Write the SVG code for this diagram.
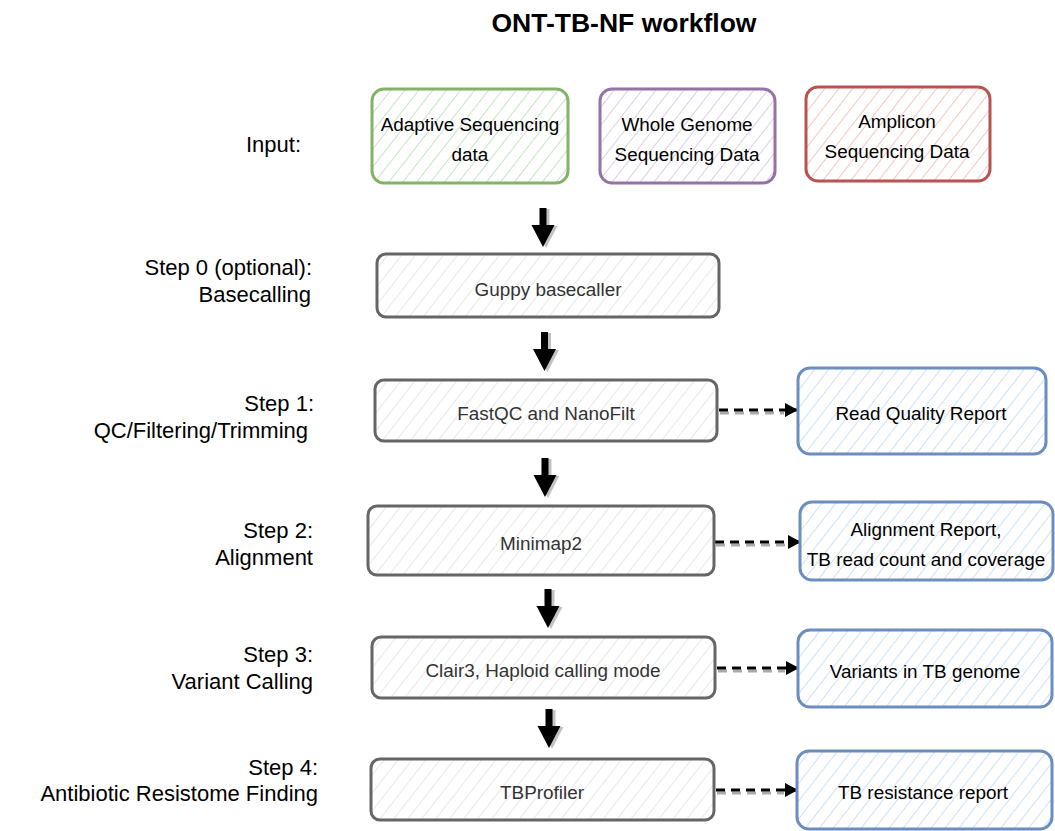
<svg xmlns="http://www.w3.org/2000/svg" width="1055" height="831" viewBox="0 0 1055 831">
<style>
text{font-family:"Liberation Sans",Arial,sans-serif;}
.lbl{font-size:22px;fill:#000;text-anchor:end;}
.bt{font-size:18.9px;fill:#000;text-anchor:middle;}
.gt{font-size:18.9px;fill:#333;text-anchor:middle;}
.box{stroke-width:3;}
.g{fill:url(#hg);stroke:#82b366;}
.p{fill:url(#hp);stroke:#9673a6;}
.r{fill:url(#hr);stroke:#b85450;}
.k{fill:url(#hk);stroke:#666;}
.b{fill:url(#hb);stroke:#6c8ebf;}
.thick{fill:#000;}
.thsh{fill:#999;opacity:0.6;}
.dash{stroke:#000;stroke-width:3;stroke-dasharray:9 6;fill:none;}
.dsh{stroke:#aaa;stroke-width:3;stroke-dasharray:9 6;fill:none;}
</style>
<defs>
<pattern id="hg" patternUnits="userSpaceOnUse" width="11" height="11" patternTransform="rotate(38)"><rect width="11" height="11" fill="#fff"/><line x1="0" y1="0" x2="0" y2="11" stroke="#c9e2c7" stroke-width="2"/></pattern>
<pattern id="hp" patternUnits="userSpaceOnUse" width="11" height="11" patternTransform="rotate(38)"><rect width="11" height="11" fill="#fff"/><line x1="0" y1="0" x2="0" y2="11" stroke="#dccfe4" stroke-width="2"/></pattern>
<pattern id="hr" patternUnits="userSpaceOnUse" width="11" height="11" patternTransform="rotate(38)"><rect width="11" height="11" fill="#fff"/><line x1="0" y1="0" x2="0" y2="11" stroke="#f5c6c4" stroke-width="2"/></pattern>
<pattern id="hk" patternUnits="userSpaceOnUse" width="11" height="11" patternTransform="rotate(38)"><rect width="11" height="11" fill="#fff"/><line x1="0" y1="0" x2="0" y2="11" stroke="#e6e6e6" stroke-width="1.8"/></pattern>
<pattern id="hb" patternUnits="userSpaceOnUse" width="11" height="11" patternTransform="rotate(38)"><rect width="11" height="11" fill="#fff"/><line x1="0" y1="0" x2="0" y2="11" stroke="#cfe0f7" stroke-width="2"/></pattern>
<marker id="tri" markerWidth="14" markerHeight="14" refX="12" refY="7" orient="auto" markerUnits="userSpaceOnUse"><path d="M0,0 L13,7 L0,14 Z" fill="#000"/></marker>
<path id="thickArrow" d="M-3.5,0 H3.5 V17 H11.5 L0,39 L-11.5,17 H-3.5 Z"/>
</defs>
<rect width="1055" height="831" fill="#fff"/>

<text x="624" y="32" style="font-size:26.5px;font-weight:bold;text-anchor:middle;">ONT-TB-NF workflow</text>

<g id="labels">
<text class="lbl" x="301" y="152">Input:</text>
<text class="lbl" x="312" y="275">Step 0 (optional):</text>
<text class="lbl" x="311" y="302">Basecalling</text>
<text class="lbl" x="314" y="411">Step 1:</text>
<text class="lbl" x="308" y="438">QC/Filtering/Trimming</text>
<text class="lbl" x="313" y="538">Step 2:</text>
<text class="lbl" x="313" y="565">Alignment</text>
<text class="lbl" x="313" y="662">Step 3:</text>
<text class="lbl" x="313" y="689">Variant Calling</text>
<text class="lbl" x="318" y="775">Step 4:</text>
<text class="lbl" x="318" y="801">Antibiotic Resistome Finding</text>
</g>

<g id="connectors">
<use href="#thickArrow" class="thsh" x="546" y="209"/>
<use href="#thickArrow" class="thick" x="543" y="208"/>
<use href="#thickArrow" class="thsh" x="547.5" y="333"/>
<use href="#thickArrow" class="thick" x="544.5" y="332"/>
<use href="#thickArrow" class="thsh" x="548" y="459"/>
<use href="#thickArrow" class="thick" x="545" y="458"/>
<use href="#thickArrow" class="thsh" x="551" y="590"/>
<use href="#thickArrow" class="thick" x="548" y="589"/>
<use href="#thickArrow" class="thsh" x="552" y="710"/>
<use href="#thickArrow" class="thick" x="549" y="709"/>

<line class="dsh" x1="720" y1="413" x2="784" y2="413"/>
<line class="dash" x1="719" y1="410" x2="797" y2="410" marker-end="url(#tri)"/>
<line class="dsh" x1="716" y1="545" x2="787" y2="545"/>
<line class="dash" x1="715" y1="542" x2="800" y2="542" marker-end="url(#tri)"/>
<line class="dsh" x1="718" y1="671" x2="785" y2="671"/>
<line class="dash" x1="717" y1="668" x2="798" y2="668" marker-end="url(#tri)"/>
<line class="dsh" x1="717" y1="793" x2="784" y2="793"/>
<line class="dash" x1="716" y1="790" x2="797" y2="790" marker-end="url(#tri)"/>
</g>

<g id="in-adaptive"><rect class="box g" x="372" y="89" width="196" height="94" rx="12"/>
<text class="bt" x="470" y="131">Adaptive Sequencing</text><text class="bt" x="470" y="161">data</text></g>
<g id="in-wgs"><rect class="box p" x="600" y="89" width="175" height="94" rx="12"/>
<text class="bt" x="687" y="131">Whole Genome</text><text class="bt" x="687" y="161">Sequencing Data</text></g>
<g id="in-amplicon"><rect class="box r" x="806" y="87" width="184" height="94" rx="12"/>
<text class="bt" x="897" y="128">Amplicon</text><text class="bt" x="897" y="158">Sequencing Data</text></g>

<g id="guppy"><rect class="box k" x="377" y="254" width="342" height="63" rx="9"/>
<text class="gt" x="548" y="296">Guppy basecaller</text></g>
<g id="fastqc"><rect class="box k" x="375" y="380" width="342" height="61" rx="9"/>
<text class="gt" x="546" y="420">FastQC and NanoFilt</text></g>
<g id="minimap2"><rect class="box k" x="368" y="506" width="346" height="69" rx="9"/>
<text class="gt" x="541" y="550">Minimap2</text></g>
<g id="clair3"><rect class="box k" x="372" y="637" width="343" height="61" rx="9"/>
<text class="gt" x="543" y="677">Clair3, Haploid calling mode</text></g>
<g id="tbprofiler"><rect class="box k" x="371" y="759" width="343" height="61" rx="9"/>
<text class="gt" x="542" y="799">TBProfiler</text></g>

<g id="out-quality"><rect class="box b" x="798" y="368" width="248" height="86" rx="12"/>
<text class="bt" x="921" y="420">Read Quality Report</text></g>
<g id="out-alignment"><rect class="box b" x="800" y="502" width="253" height="78" rx="12"/>
<text class="bt" x="926" y="536">Alignment Report,</text><text class="bt" x="926" y="566">TB read count and coverage</text></g>
<g id="out-variants"><rect class="box b" x="798" y="630" width="254" height="77" rx="12"/>
<text class="bt" x="925" y="678">Variants in TB genome</text></g>
<g id="out-resistance"><rect class="box b" x="797" y="751" width="255" height="78" rx="12"/>
<text class="bt" x="923" y="799">TB resistance report</text></g>
</svg>
